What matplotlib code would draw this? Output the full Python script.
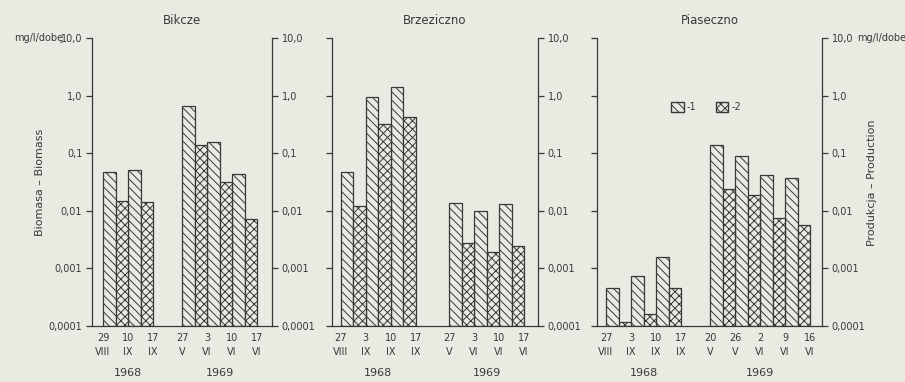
import numpy as np
import matplotlib.pyplot as plt
from matplotlib.patches import Patch

plt.rcParams['font.family'] = 'DejaVu Sans'
plt.rcParams['hatch.linewidth'] = 0.7

paper = '#eae9e2'
ink = '#383838'

# data: for each site and year, the sampling dates
# (bounds of the intervals) and the two values for every interval
sites = ["Bikcze", "Brzeziczno", "Piaseczno"]

bik_dates_68 = ["29\nVIII", "10\nIX", "17\nIX"]
bik_dates_69 = ["27\nV", "3\nVI", "10\nVI", "17\nVI"]
bik_s1_68 = [0.047, 0.051]
bik_s2_68 = [0.015, 0.014]
bik_s1_69 = [0.66, 0.158, 0.0435]
bik_s2_69 = [0.139, 0.032, 0.0071]

brz_dates_68 = ["27\nVIII", "3\nIX", "10\nIX", "17\nIX"]
brz_dates_69 = ["27\nV", "3\nVI", "10\nVI", "17\nVI"]
brz_s1_68 = [0.047, 0.95, 1.43]
brz_s2_68 = [0.0121, 0.317, 0.43]
brz_s1_69 = [0.0135, 0.0099, 0.0131]
brz_s2_69 = [0.0028, 0.00195, 0.00245]

pia_dates_68 = ["27\nVIII", "3\nIX", "10\nIX", "17\nIX"]
pia_dates_69 = ["20\nV", "26\nV", "2\nVI", "9\nVI", "16\nVI"]
pia_s1_68 = [0.00046, 0.00073, 0.00158]
pia_s2_68 = [0.000116, 0.000164, 0.00046]
pia_s1_69 = [0.14, 0.088, 0.042, 0.037]
pia_s2_69 = [0.024, 0.019, 0.0075, 0.0056]

ytick_vals = [0.0001, 0.001, 0.01, 0.1, 1.0, 10.0]
ytick_labels = ["0,0001", "0,001", "0,01", "0,1", "1,0", "10,0"]
years = ["1968", "1969"]

panels = [
    (bik_dates_68, bik_dates_69, bik_s1_68, bik_s2_68, bik_s1_69, bik_s2_69),
    (brz_dates_68, brz_dates_69, brz_s1_68, brz_s2_68, brz_s1_69, brz_s2_69),
    (pia_dates_68, pia_dates_69, pia_s1_68, pia_s2_68, pia_s1_69, pia_s2_69),
]

# layout (pixels of the 905x382 picture / bar-width units)
W, H = 905, 382
ax_px = [(92, 272), (332, 538), (597, 822)]
top_px, bot_px = 38, 326
bar_px = 12.5
group_start = [(0.88, 7.2), (0.7, 9.36), (0.72, 9.04)]

h1 = '\\\\\\\\'
h2 = 'xxxx'
base = 1e-4

fig = plt.figure(figsize=(W / 100, H / 100), dpi=100, facecolor=paper)

axes = []
for i, (dd68, dd69, a68, b68, a69, b69) in enumerate(panels):
    x0, x1 = ax_px[i]
    ax = fig.add_axes([x0 / W, 1 - bot_px / H, (x1 - x0) / W, (bot_px - top_px) / H])
    ax.set_facecolor('none')
    ax.set_yscale('log')
    ax.set_ylim(base, 10)
    ax.set_xlim(0, (x1 - x0) / bar_px)

    ticks, labels = [], []
    for g, (dd, s1, s2) in enumerate([(dd68, a68, b68), (dd69, a69, b69)]):
        st = group_start[i][g]
        xs = st + 2 * np.arange(len(s1))
        ax.bar(xs, np.array(s1) - base, bottom=base, width=1, align='edge',
               facecolor=paper, edgecolor=ink, hatch=h1, linewidth=0.9)
        ax.bar(xs + 1, np.array(s2) - base, bottom=base, width=1, align='edge',
               facecolor=paper, edgecolor=ink, hatch=h2, linewidth=0.9)
        ticks += list(st + 2 * np.arange(len(dd)))
        labels += dd
        ax.text(st + len(s1), -0.163, years[g], transform=ax.get_xaxis_transform(),
                ha='center', va='center', fontsize=8, color=ink)

    ax.set_xticks(ticks, labels=labels)
    ax.tick_params(axis='x', length=0, pad=5, labelsize=7, colors=ink)
    for t in ax.get_xticklabels():
        t.set_linespacing(1.5)

    ax.set_yticks(ytick_vals, labels=ytick_labels)
    ax.minorticks_off()
    ax.yaxis.set_minor_locator(plt.NullLocator())
    ax.tick_params(axis='y', which='both', left=True, right=True, direction='out',
                   length=4, width=0.9, labelsize=7, colors=ink,
                   labelleft=(i == 0), labelright=True, pad=3)
    ax.spines['top'].set_visible(False)
    for s in ['left', 'right', 'bottom']:
        ax.spines[s].set_color(ink)
        ax.spines[s].set_linewidth(0.9)
    ax.set_title(sites[i], fontsize=8.5, color=ink, pad=10)
    axes.append(ax)

handles = [Patch(facecolor=paper, edgecolor=ink, hatch=h1, label='-1'),
           Patch(facecolor=paper, edgecolor=ink, hatch=h2, label='-2')]
axes[2].legend(handles=handles, loc='center left', bbox_to_anchor=(0.29, 0.76),
               ncol=2, frameon=False, fontsize=7, handlelength=1.3, handleheight=1.3,
               handletextpad=0.3, columnspacing=2.0, labelcolor=ink)

fig.text(63 / W, 1 - 38 / H, "mg/l/dobę", ha='right', va='center', fontsize=7, color=ink)
fig.text(857 / W, 1 - 38 / H, "mg/l/dobe", ha='left', va='center', fontsize=7, color=ink)
fig.text(40 / W, 1 - 182 / H, "Biomasa – Biomass", rotation=90, ha='center',
         va='center', fontsize=8, color=ink)
fig.text(872 / W, 1 - 183 / H, "Produkcja – Production", rotation=90, ha='center',
         va='center', fontsize=8, color=ink)

fig.savefig("out.png", dpi=100, facecolor=paper)
